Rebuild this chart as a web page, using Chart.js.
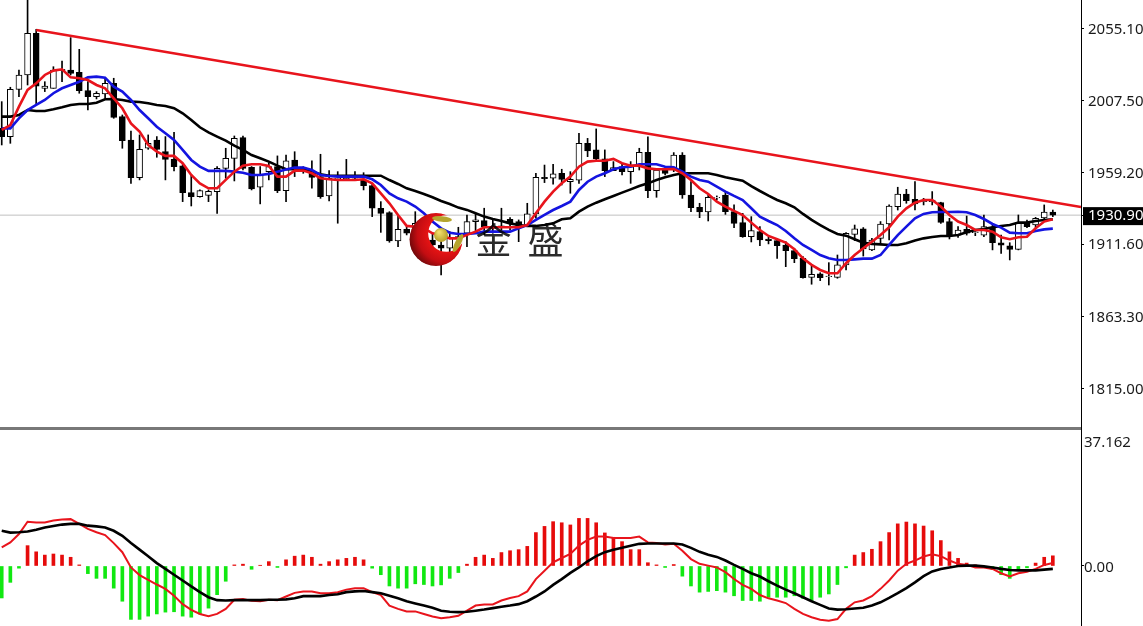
<!DOCTYPE html>
<html>
<head>
<meta charset="utf-8">
<style>
html, body { margin: 0; padding: 0; background: #fff; overflow: hidden; }
#main { position: absolute; left: 0; top: 0; }
#macd { position: absolute; left: 0; top: 431px; }
#sep { position: absolute; left: 0; top: 427px; width: 1081px; height: 3px; background: #787878; }
</style>
<script src="https://cdn.jsdelivr.net/npm/chart.js@4/dist/chart.umd.min.js"></script>
</head>
<body>
<canvas id="main" width="1143" height="431"></canvas>
<div id="sep"></div>
<canvas id="macd" width="1143" height="195"></canvas>
<script>
// candles, oldest first
var open = [1988.8,1983.3,2014.8,2024.4,2052.2,2015.5,2015.5,2027.3,2027.7,2026.2,
  2013.9,2009.9,2011.7,2018.8,1996.6,1981.0,1955.9,1975.5,1981.0,1973.3,
  1968.1,1963.7,1945.9,1943.2,1944.1,1946.6,1962.1,1968.8,1982.6,1962.8,
  1949.5,1959.9,1963.3,1947.2,1967.7,1959.9,1958.8,1956.6,1943.7,1954.8,
  1955.2,1955.5,1954.3,1950.6,1935.5,1932.6,1913.7,1921.4,1921.0,1922.1,
  1914.3,1911.0,1908.8,1915.4,1918.8,1926.6,1927.2,1922.1,1922.6,1928.1,
  1926.6,1924.3,1931.7,1956.1,1955.5,1958.8,1953.2,1954.3,1978.8,1974.4,
  1968.4,1960.6,1963.2,1959.9,1964.4,1972.8,1947.2,1961.0,1962.1,1971.0,
  1944.3,1936.1,1933.0,1942.3,1944.3,1933.2,1925.9,1916.6,1919.9,1915.0,
  1913.9,1911.0,1907.2,1902.1,1889.4,1891.7,1889.9,1889.4,1897.7,1918.1,
  1921.7,1907.7,1915.4,1925.0,1936.6,1945.0,1941.4,1939.9,1939.9,1939.2,
  1926.6,1917.6,1921.4,1919.2,1917.6,1922.8,1912.5,1910.5,1908.1,1925.9,
  1924.3,1929.0,1933.0];
var high = [2006.6,2016.2,2027.7,2075.5,2054.8,2019.9,2029.9,2033.7,2049.3,2041.5,
  2019.9,2013.3,2022.2,2022.2,1997.7,1987.0,1984.4,1984.4,1983.3,1983.3,
  1986.1,1965.5,1957.7,1947.7,1947.7,1963.3,1975.5,1983.7,1983.7,1963.3,
  1963.3,1965.9,1970.4,1971.0,1973.2,1963.2,1967.2,1971.5,1960.6,1959.9,
  1968.1,1959.9,1959.2,1952.1,1939.9,1933.2,1931.0,1923.2,1933.2,1924.3,
  1918.8,1917.7,1919.9,1922.8,1931.0,1931.7,1935.5,1927.7,1935.5,1929.2,
  1927.7,1938.8,1958.8,1964.3,1964.8,1961.5,1959.9,1985.5,1982.1,1988.4,
  1974.4,1966.6,1965.5,1966.6,1975.5,1983.2,1962.1,1962.6,1972.6,1972.6,
  1953.2,1938.8,1944.3,1943.7,1946.6,1937.7,1932.1,1929.9,1923.2,1916.1,
  1915.4,1913.2,1908.8,1903.2,1897.0,1892.5,1899.2,1904.3,1919.2,1924.3,
  1922.6,1915.4,1926.6,1937.7,1949.5,1948.1,1953.2,1942.1,1946.6,1939.5,
  1928.8,1923.2,1930.3,1919.9,1931.0,1924.3,1917.6,1912.5,1931.0,1927.6,
  1929.4,1937.7,1934.3];
var low = [1977.7,1978.8,2009.9,2017.7,2004.4,2013.3,2015.5,2019.9,2024.4,2012.2,
  2001.0,2008.4,2008.8,1995.5,1975.5,1952.1,1954.4,1974.8,1969.5,1954.4,
  1960.4,1939.9,1937.0,1942.8,1939.9,1932.1,1955.5,1953.7,1961.0,1947.7,
  1938.4,1954.4,1945.9,1939.9,1956.6,1958.8,1948.8,1942.1,1940.4,1925.5,
  1954.8,1954.8,1947.7,1929.9,1919.4,1912.8,1909.9,1917.7,1919.9,1914.3,
  1909.9,1891.0,1906.5,1909.9,1909.9,1918.8,1917.7,1918.8,1921.0,1921.0,
  1913.2,1923.2,1928.8,1952.6,1951.5,1951.0,1945.5,1952.1,1969.9,1967.7,
  1956.6,1960.6,1957.7,1952.1,1961.0,1942.6,1942.8,1957.7,1959.9,1942.1,
  1933.2,1929.2,1927.0,1941.0,1931.4,1922.6,1916.1,1913.0,1910.6,1911.7,
  1902.1,1896.5,1899.2,1888.8,1884.8,1887.2,1884.3,1888.8,1894.3,1913.9,
  1903.6,1907.2,1911.7,1914.3,1934.3,1938.8,1934.3,1937.7,1937.7,1925.4,
  1915.0,1916.1,1917.6,1917.2,1916.5,1907.7,1905.4,1901.0,1907.7,1922.6,
  1922.8,1927.6,1929.9];
var close = [1983.3,2014.8,2024.4,2052.2,2017.0,2017.0,2027.7,2028.2,2025.5,2013.9,
  2009.9,2012.2,2018.8,1996.1,1980.6,1955.9,1974.8,1978.8,1974.8,1968.1,
  1963.3,1945.9,1943.2,1947.2,1946.8,1962.1,1968.8,1982.1,1962.1,1948.4,
  1957.7,1963.3,1947.2,1967.2,1962.1,1962.1,1956.1,1943.2,1955.5,1955.5,
  1956.1,1956.6,1950.6,1935.5,1932.1,1913.7,1921.4,1918.8,1925.4,1917.7,
  1911.0,1908.8,1915.4,1916.6,1926.6,1927.7,1923.2,1923.2,1923.7,1925.4,
  1923.7,1931.7,1956.1,1955.2,1958.4,1954.8,1954.8,1978.8,1973.7,1968.4,
  1960.6,1962.6,1959.9,1963.2,1972.8,1947.2,1961.0,1958.8,1971.0,1944.3,
  1935.9,1933.0,1942.8,1942.8,1933.2,1925.4,1916.6,1920.6,1914.3,1913.9,
  1910.6,1907.2,1901.9,1889.2,1891.4,1889.2,1890.3,1897.7,1918.8,1921.7,
  1908.3,1914.3,1925.0,1937.0,1945.0,1940.6,1938.3,1941.0,1941.0,1926.1,
  1917.0,1921.0,1918.8,1919.7,1923.2,1912.5,1910.8,1908.1,1925.9,1923.2,
  1928.8,1933.0,1930.9];

// moving averages on the price panel
var maFast = [1987.7,1991.0,2003.3,2014.4,2018.8,2024.4,2027.3,2028.2,2022.8,2022.2,
  2021.0,2017.7,2015.5,2008.8,2002.2,1992.1,1986.6,1977.7,1973.3,1970.4,
  1970.4,1965.5,1957.7,1952.1,1948.8,1948.8,1954.4,1959.9,1963.9,1964.8,
  1964.8,1963.7,1956.6,1956.6,1960.6,1960.6,1958.8,1955.5,1954.8,1954.3,
  1954.3,1954.3,1954.8,1952.1,1945.4,1938.8,1931.0,1923.7,1923.2,1922.1,
  1918.8,1917.7,1915.4,1915.4,1917.7,1919.9,1922.8,1922.8,1922.8,1922.8,
  1922.8,1924.3,1932.1,1939.9,1946.6,1952.1,1956.6,1963.2,1966.6,1967.2,
  1967.2,1968.4,1965.5,1963.9,1963.9,1962.1,1961.5,1961.5,1961.7,1958.8,
  1954.3,1948.8,1945.0,1939.9,1936.6,1933.7,1931.0,1925.9,1921.0,1917.0,
  1914.8,1912.6,1908.1,1902.1,1897.7,1894.3,1892.1,1892.1,1898.8,1904.3,
  1908.8,1913.2,1917.6,1922.8,1929.9,1935.4,1939.2,1941.0,1941.0,1936.6,
  1931.0,1926.6,1924.3,1921.0,1921.0,1919.9,1916.1,1914.8,1916.1,1916.5,
  1922.1,1926.6,1928.1];
var maMid = [1988.8,1988.8,1995.5,2001.0,2004.4,2007.7,2012.2,2015.5,2017.7,2019.9,
  2022.8,2023.3,2022.6,2016.6,2013.3,2007.7,2001.0,1995.5,1989.9,1985.5,
  1981.0,1974.4,1967.7,1963.3,1960.4,1960.4,1960.4,1959.9,1959.2,1957.7,
  1957.7,1958.4,1959.9,1961.3,1962.6,1962.6,1961.0,1957.7,1957.0,1956.6,
  1956.6,1956.6,1956.6,1954.8,1951.0,1945.4,1942.1,1939.9,1936.6,1932.1,
  1926.6,1922.1,1919.2,1918.3,1918.3,1918.8,1919.9,1919.9,1919.9,1919.9,
  1922.1,1924.3,1927.7,1931.0,1934.3,1937.0,1939.9,1947.7,1953.2,1956.6,
  1958.8,1961.5,1962.8,1963.2,1964.8,1964.8,1964.8,1963.2,1962.8,1959.9,
  1956.6,1954.3,1953.2,1949.9,1946.6,1943.7,1941.0,1935.5,1929.9,1927.0,
  1924.3,1920.3,1915.4,1911.0,1907.7,1904.3,1902.1,1901.0,1901.0,1901.4,
  1901.9,1901.9,1904.3,1911.0,1917.6,1923.2,1928.8,1931.7,1932.8,1933.0,
  1933.0,1933.2,1932.8,1931.0,1928.3,1925.0,1922.6,1919.2,1918.8,1918.8,
  1920.3,1921.4,1921.9];
var maSlow = [1996.6,1996.6,1997.7,2001.0,2000.4,2000.4,2001.5,2002.8,2004.4,2005.0,
  2005.0,2005.9,2008.2,2008.4,2007.7,2006.6,2006.4,2005.5,2004.4,2003.7,
  2002.2,1998.8,1994.4,1989.5,1986.1,1983.3,1980.6,1977.3,1974.4,1971.0,
  1968.8,1966.6,1963.9,1961.5,1961.5,1961.5,1959.9,1958.1,1957.2,1957.2,
  1957.2,1957.2,1957.2,1957.2,1957.2,1954.3,1951.7,1948.8,1947.0,1945.0,
  1942.8,1940.3,1938.3,1935.9,1934.4,1932.1,1929.9,1928.3,1927.0,1925.4,
  1924.3,1923.7,1923.7,1924.3,1925.4,1928.1,1928.8,1933.2,1936.6,1939.2,
  1941.5,1943.7,1945.9,1948.1,1950.3,1952.1,1954.3,1956.1,1957.7,1958.8,
  1958.8,1958.8,1958.8,1957.7,1956.1,1955.0,1953.9,1950.3,1947.0,1943.9,
  1941.0,1938.8,1936.1,1931.7,1927.7,1924.3,1921.0,1918.3,1917.2,1914.8,
  1912.5,1911.7,1911.4,1911.0,1911.0,1912.1,1913.9,1915.4,1916.3,1917.0,
  1917.0,1917.6,1919.4,1921.0,1921.7,1922.8,1923.7,1924.3,1925.9,1925.9,
  1927.0,1927.6,1928.1];

// hand drawn trend line and last price
var trendBars = [4, 125.27];
var trendPrices = [2054.4, 1936.3];
var lastPrice = 1930.9;
var priceTicks = [2055.1, 2007.5, 1959.2, 1911.6, 1863.3, 1815.0, 1930.9];

// macd panel
var macdHist = [-8.8,-4.5,-0.6,5.6,3.9,3.0,3.3,3.0,2.4,0.3,
  -2.1,-3.4,-3.4,-6.1,-9.7,-14.7,-14.7,-13.8,-13.2,-12.7,
  -12.6,-13.8,-14.1,-13.2,-11.6,-7.9,-4.2,0.3,0.5,-0.9,
  0.2,1.2,-0.4,1.7,2.7,3.0,2.4,0.5,1.2,1.7,
  2.1,2.4,1.7,-0.6,-2.4,-5.5,-6.1,-6.1,-4.9,-5.1,
  -5.5,-5.2,-3.4,-1.8,0.5,2.4,3.0,2.1,3.7,4.2,
  4.5,5.4,9.2,10.9,12.2,11.9,11.3,13.1,13.1,11.9,
  9.1,7.9,6.7,4.5,4.5,0.9,0.3,-0.4,0.4,-2.8,
  -5.5,-7.2,-7.0,-6.8,-7.2,-8.2,-9.5,-9.5,-9.7,-8.6,
  -8.6,-8.6,-8.2,-8.9,-9.5,-8.6,-7.7,-5.1,-0.5,3.0,
  3.7,4.6,6.7,9.2,11.6,12.1,11.6,11.0,9.7,7.0,
  3.9,2.1,0.8,0.3,-0.3,-1.0,-2.4,-3.4,-1.0,-0.5,
  0.8,2.4,2.8];
var macdFast = [5.1,6.5,8.8,12.2,12.0,12.0,12.5,12.8,12.9,11.6,
  10.2,9.3,8.5,6.3,3.8,-0.4,-2.5,-3.8,-5.1,-6.3,
  -8.2,-10.5,-12.1,-13.2,-13.8,-13.2,-11.8,-9.3,-9.1,-9.6,
  -9.7,-9.3,-9.4,-8.4,-7.4,-7.0,-7.0,-7.5,-7.5,-7.2,
  -6.5,-6.1,-6.1,-7.2,-8.0,-10.9,-11.8,-12.5,-12.5,-13.2,
  -13.9,-14.4,-14.1,-13.7,-12.3,-10.9,-10.6,-10.6,-9.5,-8.8,
  -8.3,-7.0,-3.6,-1.3,1.0,2.2,3.3,5.6,7.2,8.1,
  8.1,7.7,7.7,7.7,8.1,6.5,6.3,5.9,6.1,4.2,
  1.9,0.6,0.1,-0.4,-1.7,-3.6,-5.2,-6.3,-8.0,-8.9,
  -9.5,-10.2,-11.8,-13.2,-14.1,-14.8,-15.1,-14.6,-11.8,-10.0,
  -9.5,-8.3,-6.3,-4.0,-1.3,0.6,1.5,2.6,3.2,2.7,
  1.5,0.6,0.3,-0.4,-0.4,-0.8,-2.0,-2.9,-2.0,-1.6,
  -0.8,0.3,0.8];
var macdSlow = [9.7,9.2,9.3,9.5,10.0,10.6,11.0,11.4,11.6,11.6,
  11.1,10.9,10.6,9.7,8.3,6.3,4.5,2.7,0.8,-0.8,
  -2.4,-4.0,-5.6,-7.2,-8.6,-9.4,-9.5,-9.4,-9.4,-9.4,
  -9.4,-9.3,-9.3,-9.2,-8.9,-8.3,-8.3,-8.3,-8.0,-7.8,
  -7.2,-7.0,-6.9,-7.2,-7.5,-8.2,-8.9,-9.7,-10.3,-10.9,
  -11.5,-12.3,-12.6,-12.7,-12.6,-12.3,-12.0,-11.6,-11.2,-10.9,
  -10.5,-9.7,-8.4,-7.0,-5.2,-3.6,-1.9,-0.4,1.3,2.7,
  3.8,4.5,5.0,5.6,6.1,6.2,6.2,6.2,6.2,5.9,
  5.0,3.9,3.1,2.5,1.5,0.3,-0.8,-2.0,-2.9,-4.2,
  -5.4,-6.5,-7.5,-8.6,-9.7,-10.7,-11.7,-12.0,-11.9,-11.7,
  -11.5,-10.9,-10.0,-8.8,-7.5,-6.1,-4.5,-2.8,-1.5,-0.8,
  -0.4,0.0,0.1,0.1,-0.1,-0.4,-0.8,-1.1,-1.2,-1.2,
  -1.2,-1.0,-0.8];
var macdTicks = [34.4, 0];
var macdTickLabels = ['37.162', '0.00'];

var axisFont = { family: 'Noto Sans', size: 15 };

function points(values) {
  return values.map(function (v, i) { return { x: i, y: v }; });
}

function lineSet(values, color, width, order) {
  return {
    type: 'line',
    data: points(values),
    borderColor: color,
    borderWidth: width,
    pointRadius: 0,
    fill: false,
    tension: 0,
    order: order
  };
}

// axis strip is a fixed width and labels may hang past the panel edges
function fitAxis(s) {
  s.width = 62;
  s.paddingTop = 0;
  s.paddingBottom = 0;
}

var xAxis = { type: 'linear', display: false, offset: false, min: -0.2, max: 125.27 };

// watermark sits on top of the candles
var logoPlugin = {
  id: 'logo',
  afterDatasetsDraw: function (chart) {
    var c = chart.ctx;
    c.save();
    c.save();
    c.beginPath();
    c.arc(436, 239.5, 26.5, 0, Math.PI * 2);
    c.clip();
    var g = c.createRadialGradient(446, 234, 17, 446, 234, 38);
    g.addColorStop(0, '#e81414');
    g.addColorStop(0.55, '#c40d12');
    g.addColorStop(1, '#6e080a');
    c.fillStyle = g;
    c.beginPath();
    c.arc(436, 239.5, 27, 0, Math.PI * 2);
    c.arc(446.5, 233.5, 18.3, 0, Math.PI * 2, true);
    c.fill('evenodd');
    c.restore();
    var b = c.createRadialGradient(439, 232, 1, 441, 235, 8);
    b.addColorStop(0, '#f0dc6a');
    b.addColorStop(1, '#b09a20');
    c.fillStyle = b;
    c.beginPath();
    c.arc(441, 235, 7, 0, Math.PI * 2);
    c.fill();
    c.fillStyle = '#b5a52e';
    c.beginPath();
    c.ellipse(442, 219, 10, 2.8, 0.1, 0, Math.PI * 2);
    c.fill();
    c.beginPath();
    c.ellipse(458, 243, 10, 3, -1.1, 0, Math.PI * 2);
    c.fill();
    c.globalCompositeOperation = 'multiply';
    c.fillStyle = '#2b2b2b';
    c.font = '36px "Noto Sans CJK SC"';
    c.textBaseline = 'middle';
    c.textAlign = 'center';
    c.fillText('金', 493.5, 240);
    c.fillText('盛', 545.5, 240);
    c.restore();
  }
};

new Chart(document.getElementById('main').getContext('2d'), {
  type: 'bar',
  data: {
    datasets: [
      {
        data: low.map(function (v, i) { return { x: i, y: [v, high[i]] }; }),
        backgroundColor: '#000',
        barThickness: 1,
        grouped: false,
        order: 6
      },
      {
        data: open.map(function (v, i) { return { x: i, y: [v, close[i]] }; }),
        backgroundColor: function (ctx) {
          return close[ctx.dataIndex] >= open[ctx.dataIndex] ? '#fff' : '#000';
        },
        borderColor: '#000',
        borderWidth: 1,
        borderSkipped: false,
        barThickness: 6,
        grouped: false,
        order: 5
      },
      lineSet(maSlow, '#000', 2.6, 4),
      lineSet(maMid, '#1414e0', 2.6, 3),
      lineSet(maFast, '#e8141c', 2.6, 2),
      {
        type: 'line',
        data: [{ x: xAxis.min, y: lastPrice }, { x: xAxis.max, y: lastPrice }],
        borderColor: '#c0c0c0',
        borderWidth: 1,
        pointRadius: 0,
        order: 7
      },
      {
        type: 'line',
        data: trendBars.map(function (b, i) { return { x: b, y: trendPrices[i] }; }),
        borderColor: '#e8141c',
        borderWidth: 2.6,
        pointRadius: 0,
        order: 1
      }
    ]
  },
  options: {
    responsive: false,
    animation: false,
    layout: { padding: 0 },
    plugins: { legend: { display: false }, tooltip: { enabled: false } },
    scales: {
      x: xAxis,
      y: {
        position: 'right',
        min: 1786.9,
        max: 2074.4,
        afterFit: fitAxis,
        afterBuildTicks: function (s) {
          s.ticks = priceTicks.map(function (v) { return { value: v }; });
        },
        border: { color: '#000' },
        grid: { drawOnChartArea: false, tickLength: 3, tickColor: '#000' },
        ticks: {
          autoSkip: false,
          padding: 4,
          labelOffset: 1,
          font: axisFont,
          color: function (ctx) { return ctx.tick.value === lastPrice ? '#fff' : '#1a1a1a'; },
          showLabelBackdrop: function (ctx) { return ctx.tick.value === lastPrice; },
          backdropColor: '#000',
          backdropPadding: { left: 5, right: 4, top: 0, bottom: 0 },
          callback: function (v) { return v.toFixed(2); }
        }
      }
    }
  },
  plugins: [logoPlugin]
});

new Chart(document.getElementById('macd').getContext('2d'), {
  type: 'bar',
  data: {
    datasets: [
      {
        data: points(macdHist),
        backgroundColor: function (ctx) { return macdHist[ctx.dataIndex] >= 0 ? '#e60b0b' : '#11e811'; },
        barThickness: 3,
        grouped: false,
        order: 3
      },
      lineSet(macdFast, '#e8141c', 2, 2),
      lineSet(macdSlow, '#000', 2.6, 1)
    ]
  },
  options: {
    responsive: false,
    animation: false,
    layout: { padding: 0 },
    plugins: { legend: { display: false }, tooltip: { enabled: false } },
    scales: {
      x: xAxis,
      y: {
        position: 'right',
        min: -16.52,
        max: 37.162,
        afterFit: fitAxis,
        afterBuildTicks: function (s) {
          s.ticks = macdTicks.map(function (v) { return { value: v }; });
        },
        border: { color: '#000' },
        grid: {
          drawOnChartArea: false,
          tickLength: 3,
          tickColor: function (ctx) { return ctx.tick.value === 0 ? '#000' : 'transparent'; }
        },
        ticks: {
          autoSkip: false,
          padding: 0,
          labelOffset: 1.5,
          font: axisFont,
          color: '#1a1a1a',
          callback: function (v) { return macdTickLabels[macdTicks.indexOf(v)]; }
        }
      }
    }
  }
});
</script>
</body>
</html>
